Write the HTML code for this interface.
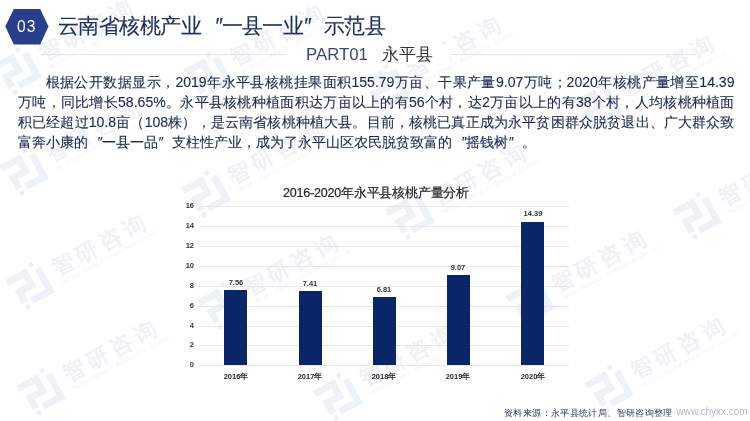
<!DOCTYPE html>
<html><head><meta charset="utf-8">
<style>
html,body{margin:0;padding:0;}
body{will-change:transform;width:750px;height:421px;position:relative;overflow:hidden;background:#fff;font-family:"Liberation Sans",sans-serif;}
.abs{position:absolute;white-space:nowrap;}
.ql{font-style:italic;display:inline-block;width:1em;text-align:right;text-align-last:right;text-indent:0}
.qr{font-style:italic;display:inline-block;width:1em;text-align:left;text-align-last:left;text-indent:0}
#hex{position:absolute;left:5px;top:9px;width:44px;height:36px;}
#num{left:17px;top:18px;font-size:15.6px;letter-spacing:1px;color:#fff;}
#title{left:58px;top:12px;font-size:21.2px;letter-spacing:-0.55px;-webkit-text-stroke:0.15px #1f3164;color:#1f3164;}
#line{position:absolute;left:42px;top:54px;width:654px;height:1px;background:#e3e3e3;}
#partbox{position:absolute;left:288px;top:44px;width:162px;height:20px;background:#fff;}
#part{left:306px;top:44.5px;font-size:16.8px;color:#34477f;}
#part2{left:382px;top:43px;font-size:17px;color:#333;}
#para{position:absolute;left:18px;top:71.5px;width:716.5px;font-size:14.07px;line-height:20.2px;color:#1e2950;-webkit-text-stroke:0.12px #1e2950;}
.pl{height:20.2px;white-space:nowrap;text-align:justify;text-align-last:justify;}
.pl.last{text-align:left;text-align-last:left;}
#ctitle{left:283px;top:185px;font-size:12.5px;letter-spacing:-0.2px;color:#262626;-webkit-text-stroke:0.2px #262626;}
.grid{position:absolute;left:199px;width:370px;height:1px;background:#e6e6e6;}
.ylab{position:absolute;left:176px;width:18px;text-align:right;font-size:7.5px;font-weight:bold;color:#333;}
.bar{position:absolute;width:23px;background:#0b2668;}
.vlab{position:absolute;width:40px;text-align:center;font-size:7.5px;font-weight:bold;color:#333;}
.xlab{position:absolute;width:50px;text-align:center;font-size:7.5px;font-weight:bold;color:#262626;top:371.5px;}
#src{left:504px;top:406.5px;font-size:9px;letter-spacing:0.38px;color:#2c3a5e;}
#url{left:676.5px;top:405.5px;font-size:10px;color:#b4bccb;}
</style></head><body>
<svg id="wmk" width="750" height="421" viewBox="0 0 750 421" style="position:absolute;left:0;top:0">
<defs><g id="wm" transform="rotate(-28)">
<g transform="scale(0.86)">
<g fill="#eef1f6">
<rect x="-22" y="-20" width="28" height="8"/>
<rect x="-2" y="-20" width="8" height="24"/>
<rect x="-18" y="-4" width="24" height="8"/>
<rect x="-18" y="-4" width="8" height="18"/>
</g>
<g fill="#edf2f9">
<rect x="-6" y="12" width="28" height="8"/>
<rect x="14" y="-14" width="8" height="34"/>
</g>
<rect x="10" y="-24" width="5" height="5" fill="#ebeef4"/>
<rect x="-16" y="18" width="5" height="5" fill="#ebeef4"/>
</g>
<text x="28" y="4" font-family="Liberation Sans, sans-serif" font-size="22" letter-spacing="5" fill="#f0f2f6" stroke="#f0f2f6" stroke-width="0.9">智研咨询</text>
<text x="30" y="14" font-family="Liberation Sans, sans-serif" font-size="5.5" letter-spacing="0.6" fill="#f0f2f6">INTELLIGENCE RESEARCH GROUP</text>
</g></defs>
<use href="#wm" x="17" y="71"/>
<use href="#wm" x="24" y="172"/>
<use href="#wm" x="30" y="286"/>
<use href="#wm" x="41" y="392"/>
<use href="#wm" x="208" y="76"/>
<use href="#wm" x="206" y="194"/>
<use href="#wm" x="222" y="306"/>
<use href="#wm" x="338" y="397"/>
<use href="#wm" x="410" y="216"/>
<use href="#wm" x="385" y="88"/>
<use href="#wm" x="598" y="107"/>
<use href="#wm" x="697" y="216"/>
<use href="#wm" x="530" y="302"/>
<use href="#wm" x="609" y="389"/>
</svg>
<svg id="hex" viewBox="0 0 44 36"><polygon points="0.3,17.6 8.8,0 35.2,0 43.5,17.6 35.2,35.4 8.8,35.4" fill="#283f8b"/></svg>
<div class="abs" id="num">03</div>
<div class="abs" id="title">云南省核桃产业<span class="ql" style="width:20.4px">″</span>一县一业<span class="qr" style="width:20.4px">″</span>示范县</div>
<div id="line"></div>
<div id="partbox"></div>
<div class="abs" id="part">PART01</div>
<div class="abs" id="part2">永平县</div>
<div id="para"><div class="pl" style="padding-left:27.5px">根据公开数据显示，2019年永平县核桃挂果面积155.79万亩、干果产量9.07万吨；2020年核桃产量增至14.39</div><div class="pl">万吨，同比增长58.65%。永平县核桃种植面积达万亩以上的有56个村，达2万亩以上的有38个村，人均核桃种植面</div><div class="pl">积已经超过10.8亩（108株），是云南省核桃种植大县。目前，核桃已真正成为永平贫困群众脱贫退出、广大群众致</div><div class="pl last">富奔小康的<span class="ql">″</span>一县一品<span class="qr">″</span>支柱性产业，成为了永平山区农民脱贫致富的<span class="ql">″</span>摇钱树<span class="qr">″</span>。</div></div>

<div class="abs" id="ctitle">2016-2020年永平县核桃产量分析</div>
<div class="grid" style="top:206px"></div>
<div class="grid" style="top:226px"></div>
<div class="grid" style="top:246px"></div>
<div class="grid" style="top:266px"></div>
<div class="grid" style="top:286px"></div>
<div class="grid" style="top:306px"></div>
<div class="grid" style="top:326px"></div>
<div class="grid" style="top:345px"></div>
<div class="grid" style="top:365px"></div>
<div class="ylab" style="top:201px">16</div>
<div class="ylab" style="top:221px">14</div>
<div class="ylab" style="top:241px">12</div>
<div class="ylab" style="top:261px">10</div>
<div class="ylab" style="top:281px">8</div>
<div class="ylab" style="top:301px">6</div>
<div class="ylab" style="top:321px">4</div>
<div class="ylab" style="top:340px">2</div>
<div class="ylab" style="top:360px">0</div>

<div class="bar" style="left:224px;top:290px;height:75px"></div>
<div class="bar" style="left:299px;top:291px;height:74px"></div>
<div class="bar" style="left:373px;top:297px;height:68px"></div>
<div class="bar" style="left:447px;top:275px;height:90px"></div>
<div class="bar" style="left:521px;top:222px;height:143px"></div>

<div class="vlab" style="left:216px;top:278px">7.56</div>
<div class="vlab" style="left:290px;top:279px">7.41</div>
<div class="vlab" style="left:364px;top:285px">6.81</div>
<div class="vlab" style="left:438px;top:263px">9.07</div>
<div class="vlab" style="left:513px;top:209px">14.39</div>

<div class="xlab" style="left:211px">2016年</div>
<div class="xlab" style="left:285px">2017年</div>
<div class="xlab" style="left:359px">2018年</div>
<div class="xlab" style="left:433px">2019年</div>
<div class="xlab" style="left:508px">2020年</div>

<div class="abs" id="src">资料来源：永平县统计局、智研咨询整理</div>
<div class="abs" id="url">www.chyxx.com</div>
</body></html>
